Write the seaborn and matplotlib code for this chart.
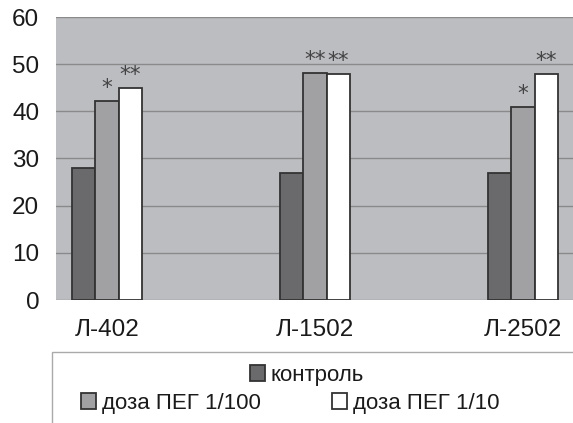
import matplotlib
matplotlib.use("Agg")
import matplotlib.pyplot as plt
import matplotlib.patches as mpatches
import pandas as pd
import seaborn as sns

# data
lines = ["Л-402", "Л-1502", "Л-2502"]
groups = ["контроль", "доза ПЕГ 1/100", "доза ПЕГ 1/10"]
control = [28, 26.9, 27]
dose_100 = [42.2, 48.1, 41]
dose_10 = [45, 48, 48]
stars = {
    "контроль": ["", "", ""],
    "доза ПЕГ 1/100": ["*", "**", "*"],
    "доза ПЕГ 1/10": ["**", "**", "**"],
}
colors = ["#6a6a6c", "#a0a1a5", "#ffffff"]

df = pd.DataFrame(
    {
        "line": lines * 3,
        "group": [g for g in groups for _ in lines],
        "value": control + dose_100 + dose_10,
    }
)

sns.set_theme(style="white")
plt.rcParams["font.family"] = ["Liberation Sans", "DejaVu Sans"]

fig = plt.figure(figsize=(5.73, 4.23), dpi=100)
ax = fig.add_axes([56 / 573, 1 - 300 / 423, 1 - 56 / 573, (300 - 17) / 423])
ax.set_facecolor("#bcbdc1")

sns.barplot(
    data=df, x="line", y="value", hue="group", hue_order=groups,
    palette=colors, width=0.335, gap=0, edgecolor="#333333", linewidth=1.3,
    legend=False, ax=ax,
)

for cont, g in zip(ax.containers, groups):
    ax.bar_label(cont, labels=stars[g], padding=2, fontsize=15.5,
                 color="#444444", family="DejaVu Sans")

ax.set_ylim(0, 60)
ax.set_xlim(-0.245, 2.24)
ax.set_yticks(range(0, 61, 10))
ax.yaxis.grid(True, color="#8a8a8a", linewidth=1)
ax.set_axisbelow(True)
for s in ax.spines.values():
    s.set_visible(False)
ax.tick_params(axis="y", length=0, pad=12, labelsize=17.5, labelcolor="#1a1a1a")
ax.tick_params(axis="x", length=0, pad=14, labelsize=17.5, labelcolor="#1a1a1a")
ax.set_xlabel("")
ax.set_ylabel("")

# legend frame
fig.patches.append(
    mpatches.Rectangle((52 / 573, -0.02), 1, (423 - 352) / 423 + 0.02,
                       transform=fig.transFigure, facecolor="white",
                       edgecolor="#aaaaaa", linewidth=1, zorder=0)
)
handles = list(ax.containers)
kw = dict(frameon=False, fontsize=16, handlelength=0.7, handleheight=0.7,
          handletextpad=0.25, borderpad=0, labelcolor="#1a1a1a")
fig.legend([handles[0]], [groups[0]], loc="center",
           bbox_to_anchor=(307 / 573, 1 - 375 / 423), **kw)
fig.legend(handles[1:], groups[1:], loc="center", ncol=2, columnspacing=3.2,
           bbox_to_anchor=(290 / 573, 1 - 403 / 423), **kw)

fig.savefig("out.png", dpi=100)
